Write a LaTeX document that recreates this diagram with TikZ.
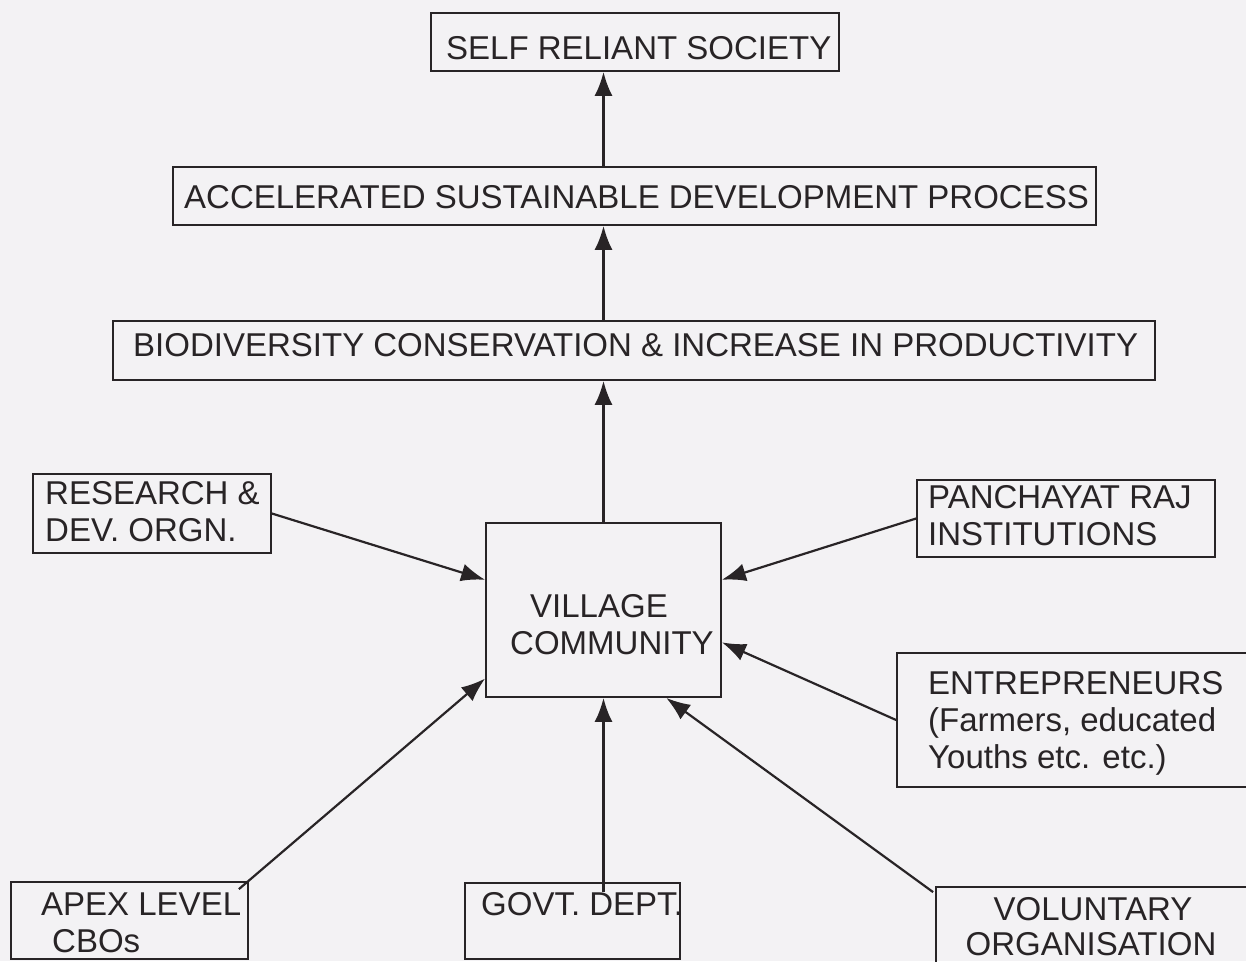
\documentclass[tikz,border=0pt]{standalone}
\usepackage{fontspec}
\setmainfont{Liberation Sans}
\usetikzlibrary{arrows.meta,calc}
\definecolor{bg}{RGB}{243,242,244}
\definecolor{ink}{RGB}{40,36,38}
\begin{document}
\begin{tikzpicture}[x=1pt,y=-1pt,
  box/.style={draw=ink, line width=1.8pt, inner sep=0pt},
  txt/.style={anchor=base west, inner sep=0pt, text=ink, font=\fontsize{33}{37}\selectfont},
  ctxt/.style={anchor=base, inner sep=0pt, text=ink, font=\fontsize{33}{37}\selectfont},
  arr/.style={draw=ink, line width=2.2pt, -{Latex[length=24pt,width=18pt]}}]
\useasboundingbox (0,0) rectangle (1246,961);
\clip (0,0) rectangle (1246,961);
\fill[bg] (0,0) rectangle (1246,961);

% boxes
\node[box, minimum width=408pt, minimum height=58pt] (self) at (635,42) {};
\node[box, minimum width=923pt, minimum height=58pt] (acc) at (634.5,196) {};
\node[box, minimum width=1042pt, minimum height=59pt] (bio) at (634,350.5) {};
\node[box, minimum width=238pt, minimum height=79pt] (res) at (152,513.5) {};
\node[box, minimum width=298pt, minimum height=77pt] (pan) at (1066,518.5) {};
\node[box, minimum width=235pt, minimum height=174pt] (vc) at (603.5,610) {};
\node[box, minimum width=363pt, minimum height=134pt] (ent) at (1078.5,720) {};
\node[box, minimum width=237pt, minimum height=77pt] (apex) at (129.5,920.5) {};
\node[box, minimum width=215pt, minimum height=76pt] (govt) at (572.5,921) {};
\node[box, minimum width=324pt, minimum height=83pt] (vol) at (1098,928.5) {};

% texts
\node[txt] (tself) at (446,59) {SELF RELIANT SOCIETY};
\node[txt] (tacc) at (184,208) {ACCELERATED SUSTAINABLE DEVELOPMENT PROCESS};
\node[txt] (tbio) at (133,356) {BIODIVERSITY CONSERVATION \& INCREASE IN PRODUCTIVITY};
\node[txt] (tres1) at (45,504) {RESEARCH \&};
\node[txt] (tres2) at (45,541) {DEV. ORGN.};
\node[txt] (tpan1) at (928,508) {PANCHAYAT RAJ};
\node[txt] (tpan2) at (928,545) {INSTITUTIONS};
\node[txt] (tvc1) at (530,617) {VILLAGE};
\node[txt] (tvc2) at (510,654) {COMMUNITY};
\node[txt] (tent1) at (928,694) {ENTREPRENEURS};
\node[txt] (tent2) at (928,731) {(Farmers, educated};
\node[txt] (tent3) at (928,768) {Youths etc. etc.)};
\node[txt] (tapex1) at (41,915) {APEX LEVEL};
\node[txt] (tapex2) at (52,952) {CBOs};
\node[txt] (tgovt) at (481,915) {GOVT. DEPT.};
\node[ctxt] (tvol1) at (1093,920) {VOLUNTARY};
\node[ctxt] (tvol2) at (1091,955) {ORGANISATION};

% vertical chain
\draw[arr] (vc.north) -- (bio.south -| vc.north);
\draw[arr] (bio.north -| vc.north) -- (acc.south -| vc.north);
\draw[arr] (acc.north -| vc.north) -- (self.south -| vc.north);

% inputs to village community
\draw[arr] (res.east) -- ($(vc.north west)!0.328!(vc.south west)$);
\draw[arr] (pan.west) -- ($(vc.north east)!0.328!(vc.south east)$);
\draw[arr] (ent.west) -- ($(vc.north east)!0.684!(vc.south east)$);
\draw[arr] ($(apex.north east)+(-10,8)$) -- ($(vc.north west)!0.89!(vc.south west)$);
\draw[arr] ($(govt.north -| vc.south)+(0,10)$) -- (vc.south);
\draw[arr] ($(vol.north west)+(-2,6)$) -- ($(vc.south west)!0.765!(vc.south east)$);
\end{tikzpicture}
\end{document}
